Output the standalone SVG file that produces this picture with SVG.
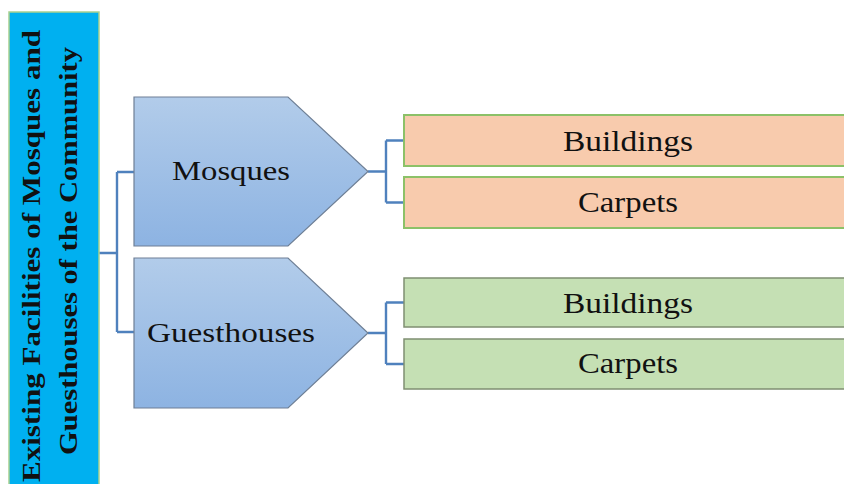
<svg xmlns="http://www.w3.org/2000/svg" width="844" height="484" viewBox="0 0 844 484">
<defs>
<linearGradient id="pg" x1="0" y1="0" x2="0" y2="1">
<stop offset="0" stop-color="#B2CCEA"/>
<stop offset="1" stop-color="#8DB3E2"/>
</linearGradient>
<style>
.conn{fill:none;stroke:#4F81BD;stroke-width:2.4}
.pent{fill:url(#pg);stroke:#6E7F95;stroke-width:1.2}
.org{fill:#F8CBAD;stroke:#8CC168;stroke-width:2}
.grn{fill:#C5E0B4;stroke:#7F8F72;stroke-width:1.5}
.lbl{font-family:"Liberation Serif","Times New Roman",serif;fill:#111;text-anchor:middle}
.title{font-family:"Liberation Serif","Times New Roman",serif;font-weight:bold;fill:#111;text-anchor:middle;font-size:26px}
</style>
</defs>
<rect width="844" height="484" fill="#FFFFFF"/>
<g id="connectors">
<path class="conn" d="M99,253 H117 M117,172 V332 M117,172 H134 M117,332 H134"/>
<path class="conn" d="M368,171.5 H386 M386,140.5 V202.5 M386,140.5 H404 M386,202.5 H404"/>
<path class="conn" d="M368,333 H386 M386,302.5 V364 M386,302.5 H404 M386,364 H404"/>
</g>
<g id="root">
<rect x="9" y="12" width="90" height="480" fill="#00B0F0" stroke="#A9D18E" stroke-width="1.5"/>
<text class="title" transform="translate(40,256) rotate(-90)" x="0" y="0" textLength="452" lengthAdjust="spacingAndGlyphs">Existing Facilities of Mosques and</text>
<text class="title" transform="translate(77,251) rotate(-90)" x="0" y="0" textLength="408" lengthAdjust="spacingAndGlyphs">Guesthouses of the Community</text>
</g>
<g id="mosques">
<polygon class="pent" points="134,97 288,97 368,171.5 288,246 134,246"/>
<text class="lbl" x="231" y="180" font-size="28" textLength="118" lengthAdjust="spacingAndGlyphs">Mosques</text>
</g>
<g id="guesthouses">
<polygon class="pent" points="134,258 288,258 368,333 288,408 134,408"/>
<text class="lbl" x="231" y="342" font-size="28" textLength="168" lengthAdjust="spacingAndGlyphs">Guesthouses</text>
</g>
<g id="m-buildings">
<rect class="org" x="404" y="115" width="450" height="51"/>
<text class="lbl" x="628" y="151" font-size="30" textLength="130" lengthAdjust="spacingAndGlyphs">Buildings</text>
</g>
<g id="m-carpets">
<rect class="org" x="404" y="177" width="450" height="51"/>
<text class="lbl" x="628" y="212" font-size="30" textLength="100" lengthAdjust="spacingAndGlyphs">Carpets</text>
</g>
<g id="g-buildings">
<rect class="grn" x="404" y="278" width="450" height="49"/>
<text class="lbl" x="628" y="313" font-size="30" textLength="130" lengthAdjust="spacingAndGlyphs">Buildings</text>
</g>
<g id="g-carpets">
<rect class="grn" x="404" y="339" width="450" height="50"/>
<text class="lbl" x="628" y="373" font-size="30" textLength="100" lengthAdjust="spacingAndGlyphs">Carpets</text>
</g>
</svg>
